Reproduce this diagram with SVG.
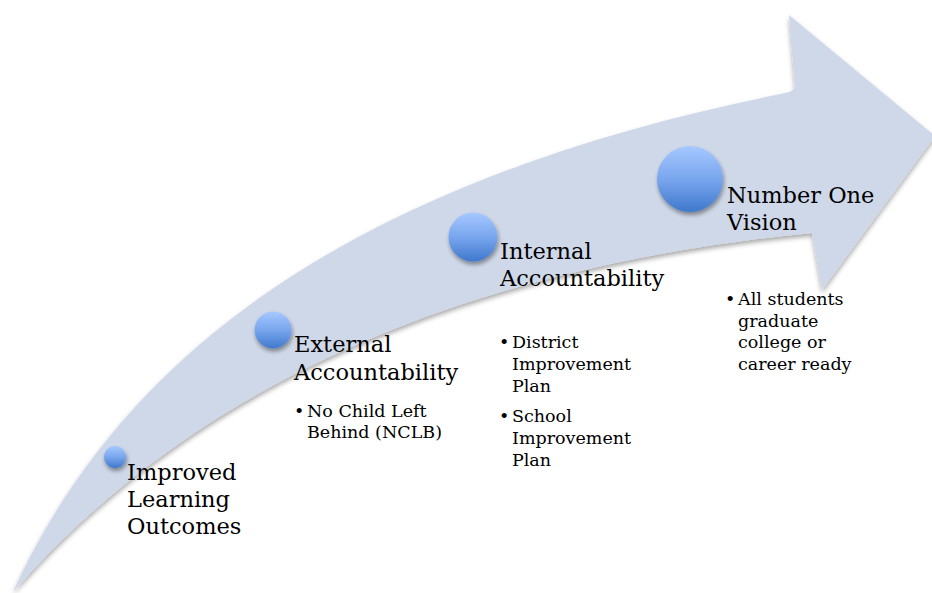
<svg xmlns="http://www.w3.org/2000/svg" width="932" height="593" viewBox="0 0 932 593">
  <defs>
    <linearGradient id="ball" x1="0" y1="0" x2="0" y2="1">
      <stop offset="0" stop-color="#A6C8FF"/>
      <stop offset="0.5" stop-color="#79A6EE"/>
      <stop offset="1" stop-color="#3F78CC"/>
    </linearGradient>
    <filter id="shadow" x="-20%" y="-20%" width="140%" height="140%">
      <feGaussianBlur in="SourceAlpha" stdDeviation="2.5"/>
      <feOffset dx="0" dy="3" result="b"/>
      <feComponentTransfer><feFuncA type="linear" slope="0.35"/></feComponentTransfer>
      <feMerge><feMergeNode/><feMergeNode in="SourceGraphic"/></feMerge>
    </filter>
    <filter id="ballshadow" x="-40%" y="-40%" width="180%" height="180%">
      <feGaussianBlur in="SourceAlpha" stdDeviation="2"/>
      <feOffset dx="1" dy="3" result="b"/>
      <feComponentTransfer><feFuncA type="linear" slope="0.4"/></feComponentTransfer>
      <feMerge><feMergeNode/><feMergeNode in="SourceGraphic"/></feMerge>
    </filter>
  </defs>
  <style>
    .arrow { fill: #CFD8E8; }
    .ball { fill: url(#ball); filter: url(#ballshadow); }
    .title { font-family: "DejaVu Serif", "Liberation Serif", serif; font-size: 22.5px; fill: #000; }
    .bullet { font-family: "DejaVu Serif", "Liberation Serif", serif; font-size: 17.5px; fill: #000; }
  </style>
  <rect width="932" height="593" fill="#FFFFFF"/>
  <g id="connectors">
    <path class="arrow" filter="url(#shadow)" d="M 13,592 C 138,318 408,168 790,92 L 795,88 L 789,15 L 935,136 L 822,290 L 812,233 C 454,268 188,391 13,592 Z"/>
  </g>
  <g id="node-improved">
    <circle class="ball" cx="115" cy="457" r="11"/>
    <text class="title"><tspan x="127" y="480">Improved</tspan><tspan x="127" y="507">Learning</tspan><tspan x="127" y="534">Outcomes</tspan></text>
  </g>
  <g id="node-external">
    <circle class="ball" cx="273" cy="330" r="18.5"/>
    <text class="title"><tspan x="294" y="352">External</tspan><tspan x="294" y="380">Accountability</tspan></text>
    <text class="bullet"><tspan x="294" y="417">•</tspan><tspan x="307" y="417">No Child Left</tspan><tspan x="307" y="438">Behind (NCLB)</tspan></text>
  </g>
  <g id="node-internal">
    <circle class="ball" cx="473" cy="237" r="24.5"/>
    <text class="title"><tspan x="500" y="259">Internal</tspan><tspan x="500" y="286">Accountability</tspan></text>
    <text class="bullet"><tspan x="499" y="348">•</tspan><tspan x="512" y="348">District</tspan><tspan x="512" y="370">Improvement</tspan><tspan x="512" y="392">Plan</tspan><tspan x="499" y="422">•</tspan><tspan x="512" y="422">School</tspan><tspan x="512" y="444">Improvement</tspan><tspan x="512" y="466">Plan</tspan></text>
  </g>
  <g id="node-vision">
    <circle class="ball" cx="690" cy="179" r="33"/>
    <text class="title"><tspan x="727" y="203">Number One</tspan><tspan x="727" y="230">Vision</tspan></text>
    <text class="bullet"><tspan x="725" y="305">•</tspan><tspan x="738" y="305">All students</tspan><tspan x="738" y="327">graduate</tspan><tspan x="738" y="348">college or</tspan><tspan x="738" y="370">career ready</tspan></text>
  </g>
</svg>
